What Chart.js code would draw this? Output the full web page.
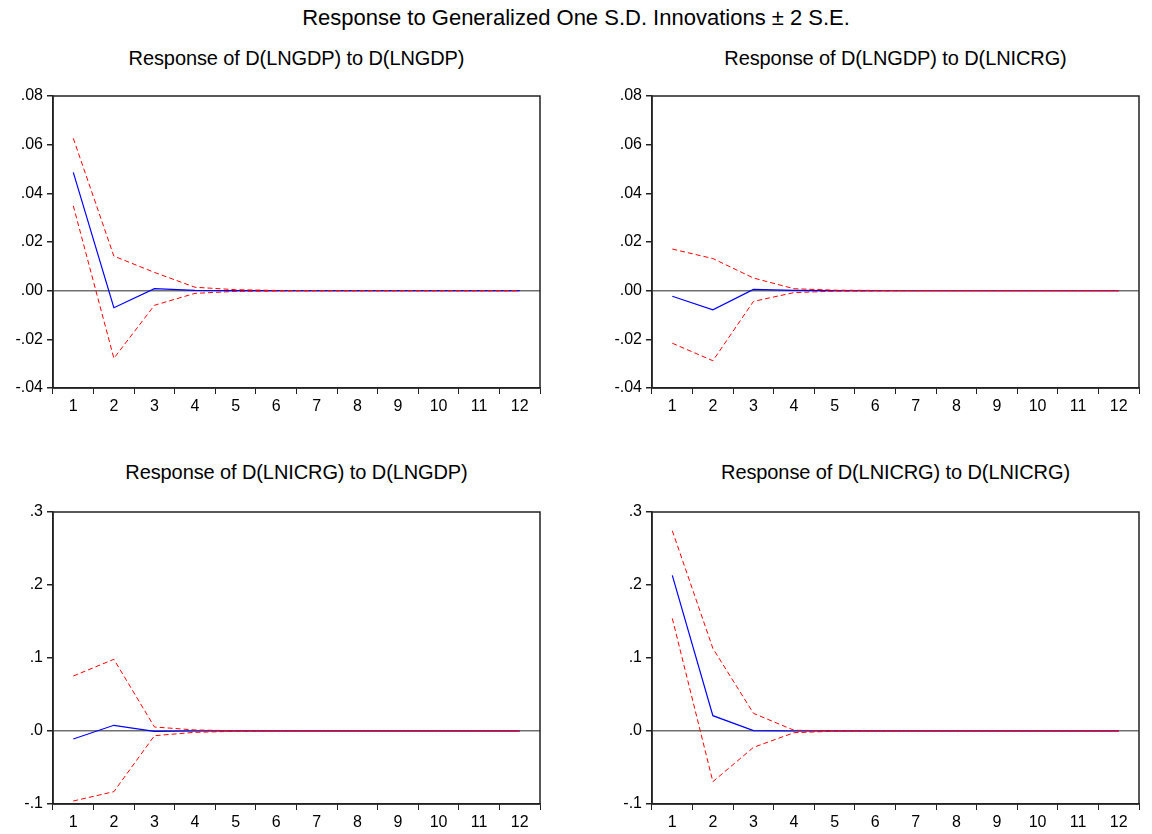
<!DOCTYPE html>
<html>
<head>
<meta charset="utf-8">
<script src="https://cdn.jsdelivr.net/npm/chart.js@4.4.1/dist/chart.umd.min.js"></script>
<style>
  body { margin: 0; background: #fff; font-family: "Liberation Sans", Arial, sans-serif; }
  #page { position: relative; width: 1152px; height: 834px; overflow: hidden; }
  .main-title { position: absolute; left: 0; top: 5px; width: 1152px; text-align: center; font-size: 22px; color: #000; }
  .sub-title { position: absolute; text-align: center; font-size: 20px; color: #000; letter-spacing: -0.1px; }
  canvas { position: absolute; }
</style>
</head>
<body>
<div id="page">
  <div class="main-title">Response to Generalized One S.D. Innovations ± 2 S.E.</div>

  <div class="sub-title" style="left:53px; top:47px; width:487px;">Response of D(LNGDP) to D(LNGDP)</div>
  <div class="sub-title" style="left:652px; top:47px; width:487px;">Response of D(LNGDP) to D(LNICRG)</div>
  <div class="sub-title" style="left:53px; top:461px; width:487px;">Response of D(LNICRG) to D(LNGDP)</div>
  <div class="sub-title" style="left:652px; top:461px; width:487px;">Response of D(LNICRG) to D(LNICRG)</div>

  <canvas id="c1" width="560" height="340" style="left:0px; top:80px;"></canvas>
  <canvas id="c2" width="560" height="340" style="left:599px; top:80px;"></canvas>
  <canvas id="c3" width="560" height="340" style="left:0px; top:496px;"></canvas>
  <canvas id="c4" width="560" height="340" style="left:599px; top:496px;"></canvas>
</div>

<script>
// periods after the shock
const periods = ['1', '2', '3', '4', '5', '6', '7', '8', '9', '10', '11', '12'];

// D(LNGDP) to D(LNGDP)
const gdpGdpResp  = [0.0486, -0.0070, 0.0008, 0.0001, 0.0000, 0, 0, 0, 0, 0, 0, 0];
const gdpGdpUpper = [0.0626, 0.0142, 0.0075, 0.0014, 0.0004, 0.0001, 0, 0, 0, 0, 0, 0];
const gdpGdpLower = [0.0349, -0.0278, -0.0060, -0.0011, -0.0003, -0.0001, 0, 0, 0, 0, 0, 0];

// D(LNGDP) to D(LNICRG)
const gdpIcrgResp  = [-0.0023, -0.0079, 0.0005, 0.0001, 0.0000, 0, 0, 0, 0, 0, 0, 0];
const gdpIcrgUpper = [0.0171, 0.0132, 0.0052, 0.0008, 0.0002, 0.0001, 0, 0, 0, 0, 0, 0];
const gdpIcrgLower = [-0.0216, -0.0288, -0.0044, -0.0008, -0.0002, -0.0001, 0, 0, 0, 0, 0, 0];

// D(LNICRG) to D(LNGDP)
const icrgGdpResp  = [-0.011, 0.0078, -0.0005, 0.0000, 0.0000, 0, 0, 0, 0, 0, 0, 0];
const icrgGdpUpper = [0.0753, 0.0982, 0.0055, 0.0014, 0.0003, 0.0001, 0, 0, 0, 0, 0, 0];
const icrgGdpLower = [-0.0959, -0.0831, -0.0064, -0.0018, -0.0004, -0.0001, 0, 0, 0, 0, 0, 0];

// D(LNICRG) to D(LNICRG)
const icrgIcrgResp  = [0.2132, 0.0210, 0.0005, 0.0000, 0.0000, 0, 0, 0, 0, 0, 0, 0];
const icrgIcrgUpper = [0.2744, 0.1132, 0.0242, 0.0010, 0.0003, 0.0001, 0, 0, 0, 0, 0, 0];
const icrgIcrgLower = [0.1543, -0.0694, -0.0224, -0.0023, -0.0003, -0.0001, 0, 0, 0, 0, 0, 0];

const FONT = '"Liberation Sans", Arial, sans-serif';

// box round the plot area (EViews style frame)
const frameBox = {
    id: 'frameBox',
    afterDraw(chart) {
        const a = chart.chartArea;
        const ctx = chart.ctx;
        ctx.save();
        ctx.strokeStyle = '#222';
        ctx.lineWidth = 1.5;
        ctx.strokeRect(a.left, a.top, a.right - a.left, a.bottom - a.top);
        ctx.restore();
    }
};

function fmtTick(value, decimals) {
    let s = Number(value).toFixed(decimals);
    return s.replace(/^(-?)0\./, '$1.');
}

function generateIrfChart(canvasId, resp, upper, lower, yMin, yMax, yStep, decimals) {
    const chartData = {
        labels: periods,
        datasets: [
            {
                label: 'Upper',
                data: upper,
                borderColor: '#ff0000',
                borderWidth: 1,
                borderDash: [5, 3],
                pointRadius: 0,
                fill: false,
                tension: 0
            },
            {
                label: 'Lower',
                data: lower,
                borderColor: '#ff0000',
                borderWidth: 1,
                borderDash: [5, 3],
                pointRadius: 0,
                fill: false,
                tension: 0
            },
            {
                label: 'Response',
                data: resp,
                borderColor: '#0000ff',
                borderWidth: 1.2,
                pointRadius: 0,
                fill: false,
                tension: 0
            }
        ]
    };

    const config = {
        type: 'line',
        data: chartData,
        options: {
            responsive: false,
            animation: false,
            layout: { padding: { top: 16, right: 20, bottom: 0, left: 0 } },
            plugins: {
                legend: { display: false },
                title: { display: false },
                tooltip: { enabled: false }
            },
            scales: {
                x: {
                    offset: true,
                    grid: {
                        offset: true,
                        drawOnChartArea: false,
                        drawTicks: true,
                        tickLength: 6,
                        tickColor: '#222'
                    },
                    border: { display: true, color: '#222', width: 1.5 },
                    ticks: {
                        color: '#000',
                        font: { family: FONT, size: 16 },
                        padding: 3,
                        maxRotation: 0,
                        autoSkip: false
                    },
                    afterFit: function(scale) { scale.height = 32; }
                },
                y: {
                    min: yMin,
                    max: yMax,
                    grid: {
                        drawOnChartArea: true,
                        tickLength: 6,
                        tickColor: '#222',
                        lineWidth: 1.5,
                        color: function(ctx) {
                            return ctx.tick && Math.abs(ctx.tick.value) < 1e-9 ? '#707070' : 'rgba(0,0,0,0)';
                        }
                    },
                    border: { display: true, color: '#222', width: 1.5 },
                    ticks: {
                        stepSize: yStep,
                        color: '#000',
                        font: { family: FONT, size: 16 },
                        padding: 4,
                        callback: function(value) {
                            return fmtTick(value, decimals);
                        }
                    },
                    afterFit: function(scale) { scale.width = 53; }
                }
            }
        },
        plugins: [frameBox]
    };

    const myChart = new Chart(document.getElementById(canvasId), config);
}

generateIrfChart('c1', gdpGdpResp, gdpGdpUpper, gdpGdpLower, -0.04, 0.08, 0.02, 2);
generateIrfChart('c2', gdpIcrgResp, gdpIcrgUpper, gdpIcrgLower, -0.04, 0.08, 0.02, 2);
generateIrfChart('c3', icrgGdpResp, icrgGdpUpper, icrgGdpLower, -0.1, 0.3, 0.1, 1);
generateIrfChart('c4', icrgIcrgResp, icrgIcrgUpper, icrgIcrgLower, -0.1, 0.3, 0.1, 1);
</script>
</body>
</html>
